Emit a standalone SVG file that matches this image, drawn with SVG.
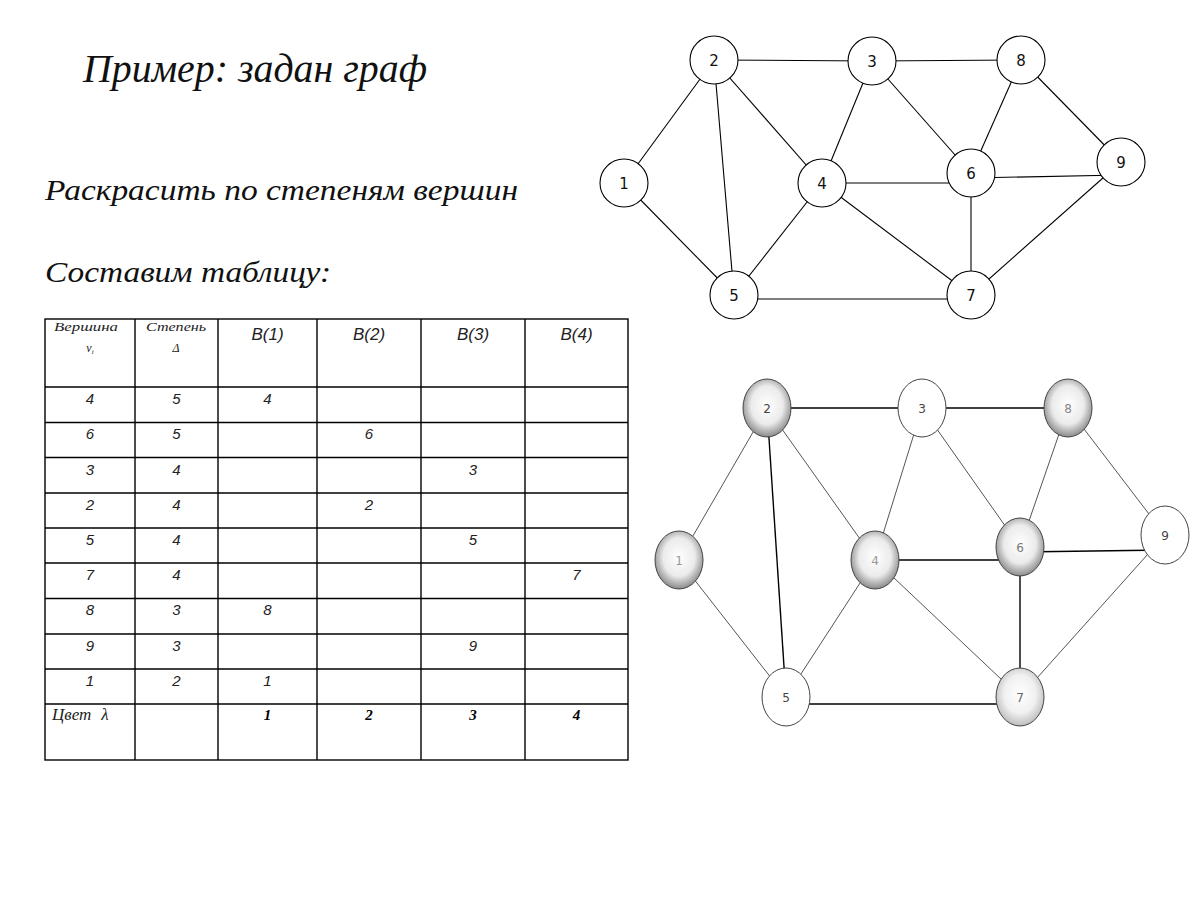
<svg xmlns="http://www.w3.org/2000/svg" width="1200" height="900" viewBox="0 0 1200 900">
<style>
.h{font-family:"Liberation Serif",serif;font-style:italic;fill:#111}
.tl{stroke:#000;stroke-width:1.4;fill:none}
.cell{font-family:"Liberation Sans",sans-serif;font-style:italic;font-size:15px;fill:#222;text-anchor:middle}
.hdr{font-family:"Liberation Sans",sans-serif;font-style:italic;font-size:17px;fill:#222;text-anchor:middle}
.sm{font-family:"Liberation Serif",serif;font-style:italic;font-size:12px;fill:#222;text-anchor:middle}
.cv{font-family:"Liberation Serif",serif;font-style:italic;font-size:17px;fill:#222}
.bold{font-family:"Liberation Serif",serif;font-style:italic;font-weight:bold;font-size:15px;fill:#000;text-anchor:middle}
.e1{stroke:#000;stroke-width:1.1}
.n1 circle{fill:#fff;stroke:#000;stroke-width:1.1}
.n1 text{font-family:"DejaVu Sans",sans-serif;font-size:15px;fill:#111;text-anchor:middle}
.e2{stroke:#555;stroke-width:1}
.e2s{stroke:#000;stroke-width:1.4}
.n2 ellipse{stroke:#444;stroke-width:1}
.n2 text{font-family:"DejaVu Sans",sans-serif;font-size:12px;text-anchor:middle}
</style>
<defs>
<radialGradient id="g" cx="50%" cy="45%" r="55%">
<stop offset="0" stop-color="#fff"/><stop offset="0.6" stop-color="#ebebeb"/><stop offset="1" stop-color="#8a8a8a"/>
</radialGradient>
<radialGradient id="g2" cx="50%" cy="45%" r="55%">
<stop offset="0" stop-color="#fff"/><stop offset="0.6" stop-color="#f0f0f0"/><stop offset="1" stop-color="#bdbdbd"/>
</radialGradient>
</defs>
<rect width="1200" height="900" fill="#fff"/>

<g id="headings">
<text class="h" x="83" y="82" font-size="40" textLength="344" lengthAdjust="spacingAndGlyphs">Пример: задан граф</text>
<text class="h" x="45" y="200" font-size="29" textLength="473" lengthAdjust="spacingAndGlyphs">Раскрасить по степеням вершин</text>
<text class="h" x="45" y="282" font-size="29" textLength="286" lengthAdjust="spacingAndGlyphs">Составим таблицу:</text>
</g>

<g id="table">
<rect class="tl" x="45" y="319" width="583" height="441"/>
<g class="tl">
<line x1="135" y1="319" x2="135" y2="760"/>
<line x1="218" y1="319" x2="218" y2="760"/>
<line x1="317" y1="319" x2="317" y2="760"/>
<line x1="421" y1="319" x2="421" y2="760"/>
<line x1="525" y1="319" x2="525" y2="760"/>
<line x1="45" y1="387" x2="628" y2="387"/>
<line x1="45" y1="422.5" x2="628" y2="422.5"/>
<line x1="45" y1="457.5" x2="628" y2="457.5"/>
<line x1="45" y1="493" x2="628" y2="493"/>
<line x1="45" y1="528" x2="628" y2="528"/>
<line x1="45" y1="563" x2="628" y2="563"/>
<line x1="45" y1="598.5" x2="628" y2="598.5"/>
<line x1="45" y1="634" x2="628" y2="634"/>
<line x1="45" y1="669" x2="628" y2="669"/>
<line x1="45" y1="704" x2="628" y2="704"/>
</g>
<text class="sm" x="86" y="331" textLength="64" lengthAdjust="spacingAndGlyphs">Вершина</text>
<text class="sm" x="90" y="352">v<tspan font-size="7" dy="2">i</tspan></text>
<text class="sm" x="176" y="331" textLength="60" lengthAdjust="spacingAndGlyphs">Степень</text>
<text class="sm" x="176" y="352">Δ</text>
<text class="hdr" x="267.5" y="340">B(1)</text>
<text class="hdr" x="369" y="340">B(2)</text>
<text class="hdr" x="473" y="340">B(3)</text>
<text class="hdr" x="576.5" y="340">B(4)</text>

<text class="cell" x="90" y="404">4</text><text class="cell" x="176.5" y="404">5</text><text class="cell" x="267.5" y="404">4</text>
<text class="cell" x="90" y="439">6</text><text class="cell" x="176.5" y="439">5</text><text class="cell" x="369" y="439">6</text>
<text class="cell" x="90" y="475">3</text><text class="cell" x="176.5" y="475">4</text><text class="cell" x="473" y="475">3</text>
<text class="cell" x="90" y="510">2</text><text class="cell" x="176.5" y="510">4</text><text class="cell" x="369" y="510">2</text>
<text class="cell" x="90" y="545">5</text><text class="cell" x="176.5" y="545">4</text><text class="cell" x="473" y="545">5</text>
<text class="cell" x="90" y="580">7</text><text class="cell" x="176.5" y="580">4</text><text class="cell" x="576.5" y="580">7</text>
<text class="cell" x="90" y="615">8</text><text class="cell" x="176.5" y="615">3</text><text class="cell" x="267.5" y="615">8</text>
<text class="cell" x="90" y="651">9</text><text class="cell" x="176.5" y="651">3</text><text class="cell" x="473" y="651">9</text>
<text class="cell" x="90" y="686">1</text><text class="cell" x="176.5" y="686">2</text><text class="cell" x="267.5" y="686">1</text>
<text class="cv" x="52" y="720">Цвет<tspan dx="10">λ</tspan></text>
<text class="bold" x="267.5" y="720">1</text>
<text class="bold" x="369" y="720">2</text>
<text class="bold" x="473" y="720">3</text>
<text class="bold" x="576.5" y="720">4</text>
</g>

<g id="connectors-top" class="e1">
<line x1="714" y1="60" x2="872" y2="61"/>
<line x1="872" y1="61" x2="1021" y2="60"/>
<line x1="714" y1="60" x2="624" y2="183"/>
<line x1="714" y1="60" x2="734" y2="295"/>
<line x1="714" y1="60" x2="822" y2="183"/>
<line x1="624" y1="183" x2="734" y2="295"/>
<line x1="872" y1="61" x2="822" y2="183"/>
<line x1="872" y1="61" x2="971" y2="173"/>
<line x1="1021" y1="60" x2="971" y2="173"/>
<line x1="1021" y1="60" x2="1121" y2="162"/>
<line x1="822" y1="183" x2="971" y2="183"/>
<line x1="971" y1="178" x2="1121" y2="175"/>
<line x1="822" y1="183" x2="734" y2="295"/>
<line x1="822" y1="183" x2="971" y2="295"/>
<line x1="971" y1="173" x2="971" y2="295"/>
<line x1="1121" y1="162" x2="971" y2="295"/>
<line x1="734" y1="299" x2="971" y2="299"/>
</g>

<g id="t1" class="n1"><circle cx="624" cy="183" r="24"/><text x="624" y="189">1</text></g>
<g id="t2" class="n1"><circle cx="714" cy="60" r="24"/><text x="714" y="66">2</text></g>
<g id="t3" class="n1"><circle cx="872" cy="61" r="24"/><text x="872" y="67">3</text></g>
<g id="t4" class="n1"><circle cx="822" cy="183" r="24"/><text x="822" y="189">4</text></g>
<g id="t5" class="n1"><circle cx="734" cy="295" r="24"/><text x="734" y="301">5</text></g>
<g id="t6" class="n1"><circle cx="971" cy="173" r="24"/><text x="971" y="179">6</text></g>
<g id="t7" class="n1"><circle cx="971" cy="295" r="24"/><text x="971" y="301">7</text></g>
<g id="t8" class="n1"><circle cx="1021" cy="60" r="24"/><text x="1021" y="66">8</text></g>
<g id="t9" class="n1"><circle cx="1121" cy="162" r="24"/><text x="1121" y="168">9</text></g>

<g id="connectors-bottom">
<line class="e2s" x1="767" y1="408" x2="922" y2="408"/>
<line class="e2s" x1="922" y1="408" x2="1068" y2="408"/>
<line class="e2s" x1="767" y1="408" x2="786" y2="697"/>
<line class="e2s" x1="875" y1="560" x2="1020" y2="560"/>
<line class="e2s" x1="1020" y1="552" x2="1165" y2="550"/>
<line class="e2s" x1="1020" y1="547" x2="1020" y2="697"/>
<line class="e2s" x1="786" y1="704" x2="1020" y2="704"/>
<line class="e2" x1="767" y1="408" x2="679" y2="560"/>
<line class="e2" x1="767" y1="408" x2="875" y2="560"/>
<line class="e2" x1="679" y1="560" x2="786" y2="697"/>
<line class="e2" x1="922" y1="408" x2="875" y2="560"/>
<line class="e2" x1="922" y1="408" x2="1020" y2="547"/>
<line class="e2" x1="1068" y1="408" x2="1020" y2="547"/>
<line class="e2" x1="1068" y1="408" x2="1165" y2="535"/>
<line class="e2" x1="875" y1="560" x2="786" y2="697"/>
<line class="e2" x1="875" y1="560" x2="1020" y2="697"/>
<line class="e2" x1="1165" y1="535" x2="1020" y2="697"/>
</g>

<g id="b1" class="n2"><ellipse cx="679" cy="560" rx="24" ry="29" fill="url(#g)"/><text x="679" y="565" fill="#999">1</text></g>
<g id="b2" class="n2"><ellipse cx="767" cy="408" rx="24" ry="29" fill="url(#g)"/><text x="767" y="413" fill="#444">2</text></g>
<g id="b3" class="n2"><ellipse cx="922" cy="408" rx="24" ry="29" fill="#fff"/><text x="922" y="413" fill="#444">3</text></g>
<g id="b4" class="n2"><ellipse cx="875" cy="560" rx="24" ry="29" fill="url(#g)"/><text x="875" y="565" fill="#999">4</text></g>
<g id="b5" class="n2"><ellipse cx="786" cy="697" rx="24" ry="29" fill="#fff"/><text x="786" y="702" fill="#444">5</text></g>
<g id="b6" class="n2"><ellipse cx="1020" cy="547" rx="24" ry="29" fill="url(#g)"/><text x="1020" y="552" fill="#777">6</text></g>
<g id="b7" class="n2"><ellipse cx="1020" cy="697" rx="24" ry="29" fill="url(#g2)"/><text x="1020" y="702" fill="#666">7</text></g>
<g id="b8" class="n2"><ellipse cx="1068" cy="408" rx="24" ry="29" fill="url(#g)"/><text x="1068" y="413" fill="#888">8</text></g>
<g id="b9" class="n2"><ellipse cx="1165" cy="535" rx="24" ry="29" fill="#fff"/><text x="1165" y="540" fill="#444">9</text></g>
</svg>
